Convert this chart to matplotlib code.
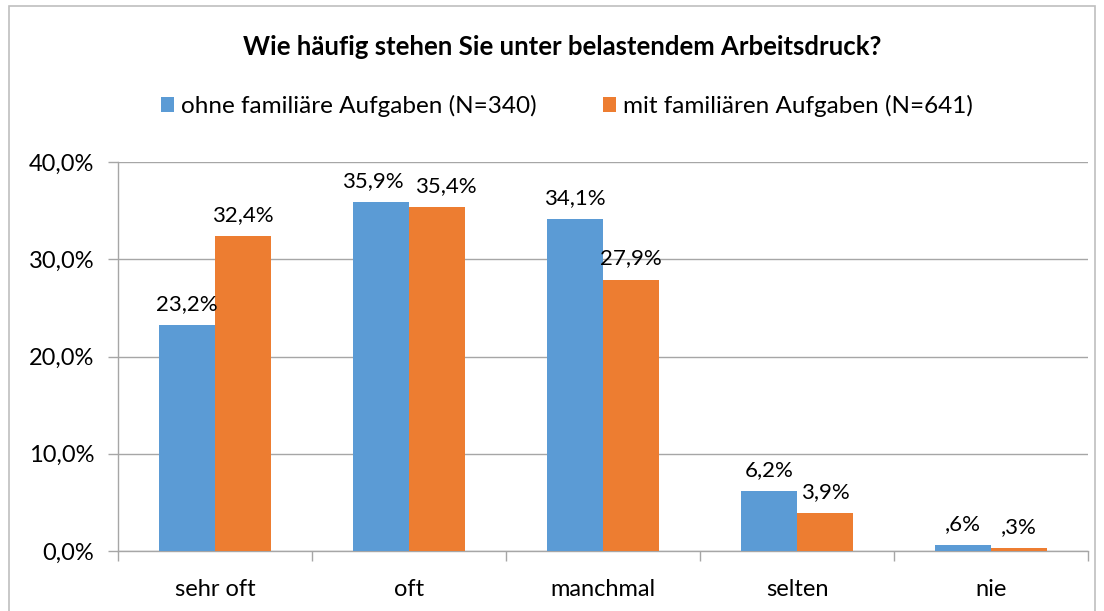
import numpy as np
import matplotlib.pyplot as plt
from matplotlib.patches import Rectangle

plt.rcParams["font.family"] = ["Lato", "DejaVu Sans"]

categories = ["sehr oft", "oft", "manchmal", "selten", "nie"]
ohne = [23.2, 35.9, 34.1, 6.2, 0.6]
mit = [32.4, 35.4, 27.9, 3.9, 0.3]
series_names = ["ohne familiäre Aufgaben (N=340)", "mit familiären Aufgaben (N=641)"]
y_ticks = [0, 10, 20, 30, 40]

blue = "#5B9BD5"
orange = "#ED7D31"
grid_col = "#A6A6A6"


def fmt_pct(v):
    s = f"{v:.1f}".replace(".", ",")
    if s.startswith("0,"):
        s = s[1:]
    return s + "%"


fig = plt.figure(figsize=(11.04, 6.11), dpi=100)
ax = fig.add_axes([118 / 1104, 1 - 551 / 611, 970 / 1104, 389 / 611])

x = np.arange(len(categories))
w = 0.289
b1 = ax.bar(x - w / 2, ohne, w, color=blue, label=series_names[0], zorder=3)
b2 = ax.bar(x + w / 2, mit, w, color=orange, label=series_names[1], zorder=3)

# labels; push apart when the two bars of a group are nearly equal (as Excel does)
for sign, bars, vals in ((-1, b1, ohne), (1, b2, mit)):
    for i, (rect, v) in enumerate(zip(bars, vals)):
        close = abs(ohne[i] - mit[i]) < 2 and v > 5
        dx = sign * 6 if close else 0
        ax.annotate(fmt_pct(v), (rect.get_x() + rect.get_width() / 2, v),
                    xytext=(dx, 8), textcoords="offset points",
                    ha="center", va="bottom", fontsize=16, color="#000000")

ax.set_xlim(-0.5, len(categories) - 0.5)
ax.set_ylim(0, 40)
ax.set_yticks(y_ticks)
ax.set_yticklabels([f"{t:.1f}".replace(".", ",") + "%" for t in y_ticks])
ax.yaxis.grid(True, color=grid_col, linewidth=1, zorder=0)
ax.set_axisbelow(True)

# category labels centered, tick marks on the boundaries
ax.set_xticks(x)
ax.set_xticklabels(categories)
ax.set_xticks(np.arange(-0.5, len(categories)), minor=True)
ax.tick_params(axis="x", which="major", length=0, pad=20, labelsize=17)
ax.tick_params(axis="x", which="minor", length=7, color=grid_col, width=1)
ax.tick_params(axis="y", length=7, color=grid_col, width=1, pad=10, labelsize=17)

for side in ("top", "right"):
    ax.spines[side].set_visible(False)
for side in ("left", "bottom"):
    ax.spines[side].set_color(grid_col)
    ax.spines[side].set_linewidth(1)

fig.text(562 / 1104, 1 - 47 / 611, "Wie häufig stehen Sie unter belastendem Arbeitsdruck?",
         ha="center", va="center", fontsize=18.5, fontweight="bold")

fig.legend(handles=[b1, b2], loc="center", bbox_to_anchor=(567 / 1104, 1 - 106 / 611),
           ncol=2, frameon=False, fontsize=17.5, handlelength=0.55, handleheight=0.55,
           handletextpad=0.3, columnspacing=2.7)

fig.patches.append(Rectangle((9 / 1104, -0.01), 1086 / 1104, 1.0,
                             transform=fig.transFigure, fill=False,
                             edgecolor="#BFBFBF", linewidth=1.2))

fig.savefig("out.png", dpi=100)
